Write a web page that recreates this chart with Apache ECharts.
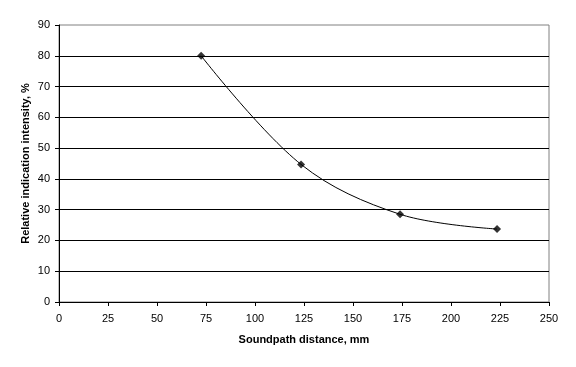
<!DOCTYPE html>
<html><head><meta charset="utf-8">
<script src="https://cdn.jsdelivr.net/npm/echarts@6/dist/echarts.min.js"></script>
<style>html,body{margin:0;padding:0;background:#fff}#c{width:576px;height:367px}</style>
</head><body><div id="c"></div>
<script>
const distances = [72.5, 123.5, 174, 223.5];
const intensities = [80, 44.7, 28.5, 23.7];
const xTicks = [0, 25, 50, 75, 100, 125, 150, 175, 200, 225, 250];
const yTicks = [0, 10, 20, 30, 40, 50, 60, 70, 80, 90];
const xTitle = 'Soundpath distance, mm';
const yTitle = 'Relative indication intensity, %';

const pts = distances.map((d, i) => [d, intensities[i]]);
const font = 'Liberation Sans, Arial, sans-serif';
const chart = echarts.init(document.getElementById('c'), null, {renderer: 'canvas'});
chart.setOption({
  animation: false,
  backgroundColor: '#fff',
  grid: {left: 59, right: 27, top: 25, bottom: 65, show: true, borderColor: '#808080', borderWidth: 1, backgroundColor: 'transparent'},
  xAxis: {
    type: 'value', min: xTicks[0], max: xTicks[xTicks.length - 1], interval: 25,
    name: xTitle, nameLocation: 'middle', nameGap: 32, nameMoveOverlap: false,
    nameTextStyle: {fontFamily: font, fontSize: 11, fontWeight: 'bold', color: '#000'},
    axisLine: {show: true, lineStyle: {color: '#000', width: 1}},
    axisTick: {show: true, inside: false, length: 4, lineStyle: {color: '#000'}},
    axisLabel: {fontFamily: font, fontSize: 11, color: '#000', margin: 11},
    splitLine: {show: false}
  },
  yAxis: {
    type: 'value', min: yTicks[0], max: yTicks[yTicks.length - 1], interval: 10,
    name: yTitle, nameLocation: 'middle', nameGap: 28, nameRotate: 90, nameMoveOverlap: false,
    nameTextStyle: {fontFamily: font, fontSize: 11, fontWeight: 'bold', color: '#000'},
    axisLine: {show: true, lineStyle: {color: '#000', width: 1}},
    axisTick: {show: true, inside: false, length: 4, lineStyle: {color: '#000'}},
    axisLabel: {fontFamily: font, fontSize: 11, color: '#000', margin: 9},
    splitLine: {show: true, showMaxLine: false, showMinLine: false, lineStyle: {color: '#000', width: 1}}
  },
  series: [
    {
      type: 'line', data: pts, smooth: 0.35, showSymbol: false, symbol: 'none',
      lineStyle: {color: '#000', width: 1}, z: 2
    },
    {
      type: 'scatter', data: pts, symbol: 'diamond', symbolSize: 8,
      itemStyle: {color: '#000'}, z: 3
    }
  ]
});
</script></body></html>
